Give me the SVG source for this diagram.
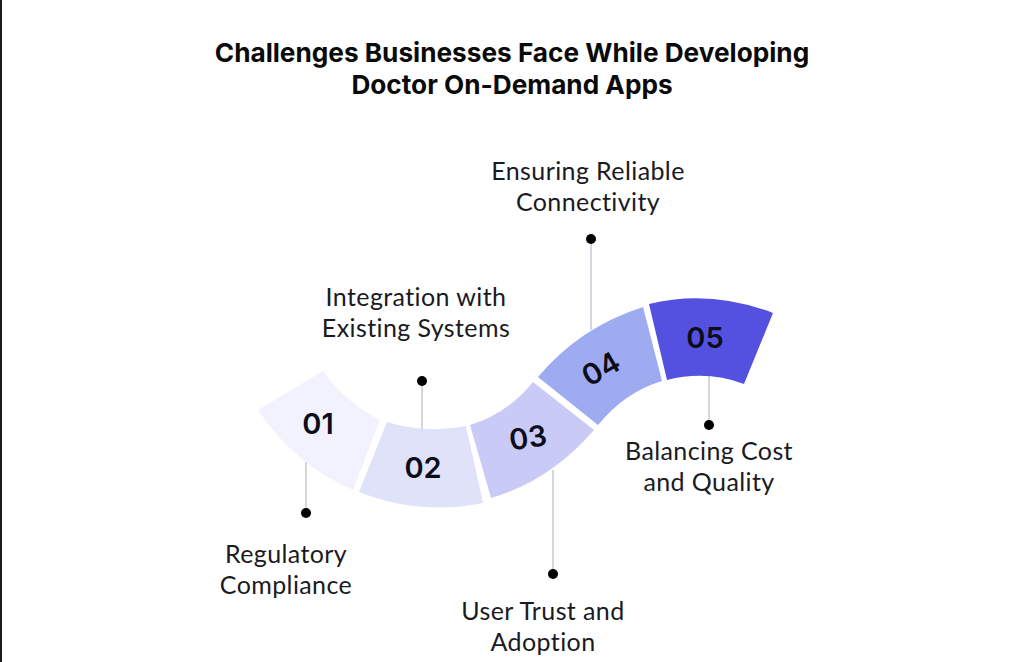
<svg xmlns="http://www.w3.org/2000/svg" width="1021" height="662" viewBox="0 0 1021 662">
<style>
.t{font-family:"Inter","Liberation Sans",sans-serif;font-weight:700;font-size:26.2px;fill:#0a0a0a;text-anchor:middle}
.l{font-family:"Lato","Liberation Sans",sans-serif;font-size:25px;letter-spacing:.4px;fill:#1a1a1f;text-anchor:middle}
.n{font-family:"Inter","Liberation Sans",sans-serif;font-weight:600;font-size:29px;fill:#0d0d1a;text-anchor:middle}
.c{stroke:#d3d8e0;stroke-width:2;fill:none}
.d{fill:#000}
</style>
<rect width="1021" height="662" fill="#fff"/>
<rect width="2" height="662" fill="#1a1a1a"/>
<g id="title"><text class="t" x="512" y="62">Challenges Businesses Face While Developing</text><text class="t" x="512" y="94">Doctor On-Demand Apps</text></g>
<g id="connectors">
<path class="c" d="M306 462V513"/><path class="c" d="M422 381V429"/><path class="c" d="M553 470V574"/><path class="c" d="M591 239V330"/><path class="c" d="M709 376V425"/>
</g>
<g id="node1"><path d="M258 410L323 371Q345 402 380 420L353 490Q295 465 258 410Z" fill="#f1f2fd"/><text class="n" x="318" y="434">01</text><circle class="d" cx="306" cy="513" r="5"/><text class="l" x="286" y="563">Regulatory</text><text class="l" x="286" y="594">Compliance</text></g>
<g id="node2"><path d="M387 422Q425 434 466 426L483 503Q420 516 359 492Z" fill="#e0e2f9"/><text class="n" x="423" y="478">02</text><circle class="d" cx="422" cy="381" r="5"/><text class="l" x="416" y="306">Integration with</text><text class="l" x="416" y="337">Existing Systems</text></g>
<g id="node3"><path d="M470 425Q507 414 533 382L594 430Q550 481 491 498Z" fill="#c9cbf6"/><text class="n" x="528" y="448" transform="rotate(-8 528 438)">03</text><circle class="d" cx="553" cy="574" r="5"/><text class="l" x="543" y="620">User Trust and</text><text class="l" x="543" y="651">Adoption</text></g>
<g id="node4"><path d="M538 377Q580 327 643 307L662 381Q625 392 598 425Z" fill="#9fabf1"/><text class="n" x="601" y="379" transform="rotate(-30 601 369)">04</text><circle class="d" cx="591" cy="239" r="5"/><text class="l" x="588" y="180">Ensuring Reliable</text><text class="l" x="588" y="211">Connectivity</text></g>
<g id="node5"><path d="M649 304Q710 289 773 313L744 384Q707 370 667 380Z" fill="#5551e0"/><text class="n" x="705" y="348">05</text><circle class="d" cx="709" cy="425" r="5"/><text class="l" x="709" y="460">Balancing Cost</text><text class="l" x="709" y="491">and Quality</text></g>
</svg>
